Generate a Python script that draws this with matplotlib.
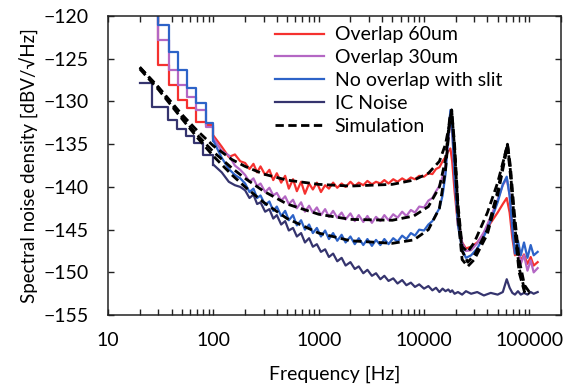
import numpy as np
import matplotlib
matplotlib.use("Agg")
import matplotlib.pyplot as plt
from matplotlib.ticker import FixedLocator, LogLocator, NullFormatter

plt.rcParams['font.family'] = ['Lato', 'DejaVu Sans']

# ---- data (frequency in Hz, level in dBV/sqrt(Hz)) ----
n_step = 8  # first points are stair-like (coarse FFT bins)

f_low = [28, 30, 38, 46, 56, 69, 85, 100]
f_mid = [120, 140, 160, 180,
         200, 220, 240, 260, 280, 310, 340, 370, 400, 440, 480, 520, 570, 620,
         680, 740, 810, 880, 960, 1050, 1150, 1250, 1370, 1500, 1650, 1800,
         2000, 2200, 2400, 2650, 2900, 3200, 3500, 3850, 4200, 4600, 5100,
         5600, 6200, 6800, 7500, 8200, 9000, 10000, 11000, 12000, 13000,
         14000, 15000, 16000]
f_high = [17000, 17800, 18500, 19500, 21000, 23000, 25000, 28000, 32000,
          37000, 43000, 50000, 56000, 61000, 65000, 69000, 73000, 78000,
          83000, 89000, 96000, 103000, 110000, 120000]

red_low = [-117, -125.7, -128.1, -129.8, -130.8, -132.4, -132.8, -134.0]
red_mid = [-135.3, -136.5, -136.2, -137.0,
           -137.2, -137.9, -137.3, -138.3, -137.6, -138.6, -138.0, -139.2,
           -138.4, -139.5, -138.7, -140.2, -139.1, -140.5, -139.4, -140.8,
           -139.6, -140.3, -139.5, -140.6, -139.8, -140.2, -139.5, -140.1,
           -139.6, -140.0, -139.4, -139.9, -139.5, -139.8, -139.3, -139.7,
           -139.4, -139.6, -139.2, -139.6, -139.1, -139.4, -139.0, -139.3,
           -138.9, -139.1, -138.7, -138.8, -138.4, -138.5, -137.9, -137.7,
           -137.0, -136.5]
red_high = [-135.8, -135.5, -137.0, -140.5, -144.5, -146.5, -147.2, -147.0,
            -146.5, -145.5, -144.2, -143.0, -142.0, -141.3, -143.0, -146.0,
            -148.0, -147.5, -148.6, -147.9, -149.0, -148.2, -149.2, -148.8]

purple_low = [-117, -122.8, -126.3, -128.1, -129.5, -131.0, -133.0, -134.3]
purple_mid = [-135.8, -136.3, -137.5, -138.0,
              -138.6, -139.4, -139.0, -139.9, -139.6, -140.6, -140.1, -141.0,
              -140.7, -141.6, -141.1, -142.0, -141.5, -142.5, -141.8, -142.9,
              -142.2, -143.0, -142.4, -143.3, -142.6, -143.5, -142.8, -143.6,
              -143.0, -143.8, -143.1, -144.0, -143.3, -144.1, -143.4, -144.2,
              -143.5, -144.0, -143.3, -143.9, -143.2, -143.6, -142.9, -143.4,
              -142.7, -143.0, -142.3, -142.4, -141.6, -141.3, -140.5, -139.9,
              -138.8, -137.5]
purple_high = [-134.5, -131.8, -133.5, -138.5, -143.5, -146.5, -147.5, -147.4,
               -146.6, -145.3, -143.5, -141.5, -139.8, -139.0, -141.0, -144.5,
               -147.5, -147.0, -149.0, -148.0, -149.8, -148.6, -150.0, -149.5]

blue_low = [-117, -121.1, -124.2, -126.3, -128.4, -130.2, -132.5, -134.6]
blue_mid = [-136.6, -137.9, -138.6, -139.0,
            -139.6, -140.6, -140.2, -141.3, -141.0, -142.1, -141.7, -142.8,
            -142.3, -143.4, -142.8, -143.9, -143.3, -144.5, -143.9, -145.0,
            -144.4, -145.4, -144.8, -145.8, -145.1, -146.1, -145.4, -146.3,
            -145.6, -146.5, -145.8, -146.7, -146.0, -146.8, -146.1, -146.9,
            -146.2, -146.8, -146.1, -146.7, -146.0, -146.4, -145.7, -146.1,
            -145.4, -145.7, -145.0, -145.1, -144.4, -144.0, -143.2, -142.5,
            -141.0, -138.5]
blue_high = [-134.0, -131.0, -133.0, -139.0, -144.5, -147.3, -148.3, -148.0,
             -147.2, -145.8, -144.0, -141.8, -139.7, -138.8, -141.0, -145.0,
             -147.8, -146.3, -148.0, -146.5, -148.3, -146.8, -148.0, -147.6]

ic_f_low = [20, 26, 37, 45, 55, 65, 80, 100]
ic_low = [-127.8, -130.6, -132.2, -133.2, -134.0, -134.9, -136.3, -137.4]
ic_mid = [-138.3, -139.4, -139.8, -140.0,
          -140.4, -141.3, -140.9, -142.0, -141.8, -142.9, -142.6, -143.7,
          -143.3, -144.4, -144.0, -145.1, -144.8, -145.8, -145.4, -146.5,
          -146.0, -147.0, -146.7, -147.6, -147.3, -148.2, -147.8, -148.7,
          -148.3, -149.2, -148.8, -149.6, -149.3, -150.1, -149.7, -150.4,
          -150.1, -150.8, -150.4, -151.0, -150.7, -151.3, -150.9, -151.5,
          -151.2, -151.7, -151.4, -151.9, -151.6, -152.1, -151.8, -152.3,
          -151.9, -152.2]
ic_high = [-152.0, -152.3, -152.1, -152.5, -152.3, -152.6, -152.2, -152.5,
           -152.3, -152.7, -152.4, -152.6, -152.3, -150.8, -151.8, -152.4,
           -152.6, -152.2, -152.6, -152.4, -152.6, -152.3, -152.5, -152.3]

sim_f = [20, 30, 50, 70, 100, 150, 200, 300, 500, 1000, 2000, 5000, 8000,
         11000, 14000, 16000, 17500, 18300, 19500, 21000, 23000, 26000, 30000,
         40000, 50000, 58000, 62000, 66000, 72000, 80000, 90000, 100000]
sim_red = [-126.0, -128.3, -131.5, -133.4, -135.2, -136.8, -137.6, -138.5,
           -139.2, -139.7, -139.9, -139.7, -139.2, -138.4, -137.0, -135.0,
           -132.5, -131.0, -135.0, -142.0, -147.0, -147.6, -146.5, -143.0,
           -139.5, -136.5, -135.0, -137.5, -143.0, -148.5, -151.5, -152.3]
sim_purple = [-126.0, -128.4, -131.8, -133.9, -135.9, -137.8, -139.0, -140.5,
              -142.0, -143.2, -143.8, -143.9, -143.4, -142.3, -140.0, -136.8,
              -132.0, -131.0, -135.5, -142.5, -147.5, -148.8, -148.0, -145.0,
              -140.5, -136.5, -135.0, -138.0, -144.0, -149.5, -152.0, -152.5]
sim_blue = [-126.2, -128.6, -132.0, -134.2, -136.4, -138.6, -140.0, -141.8,
            -143.7, -145.4, -146.3, -146.6, -146.2, -145.0, -142.5, -138.0,
            -132.5, -131.2, -136.0, -143.5, -148.5, -149.3, -148.5, -145.5,
            -141.0, -137.0, -135.2, -138.5, -144.5, -150.0, -152.3, -152.6]

labels = ['Overlap 60um', 'Overlap 30um', 'No overlap with slit', 'IC Noise',
          'Simulation']
colors = ['#f5312f', '#b467c4', '#2d63c8', '#35346e', 'black']

fig = plt.figure(figsize=(5.69, 3.9), dpi=100)
ax = fig.add_axes([0.19, 0.192, 0.796, 0.767])


def draw(f, v, label, color):
    f = np.array(f, dtype=float)
    v = np.array(v, dtype=float)
    ax.step(f[:n_step], v[:n_step], where='post', color=color, lw=1.6)
    ax.plot(f[n_step - 1:], v[n_step - 1:], color=color, lw=1.6, label=label)


draw(f_low + f_mid + f_high, red_low + red_mid + red_high, labels[0], colors[0])
draw(f_low + f_mid + f_high, purple_low + purple_mid + purple_high, labels[1], colors[1])
draw(f_low + f_mid + f_high, blue_low + blue_mid + blue_high, labels[2], colors[2])
draw(ic_f_low + f_mid + f_high, ic_low + ic_mid + ic_high, labels[3], colors[3])

for i, s in enumerate([sim_red, sim_purple, sim_blue]):
    ax.plot(sim_f, s, color='black', lw=2.0, ls=(0, (3.0, 1.6)),
            label=labels[4] if i == 0 else None)

ax.set_xscale('log')
ax.set_xlim(10, 200000)
ax.set_ylim(-155, -120)
ax.xaxis.set_major_locator(FixedLocator([10, 100, 1000, 10000, 100000]))
ax.set_xticklabels(['10', '100', '1000', '10000', '100000'])
ax.xaxis.set_minor_locator(LogLocator(base=10, subs=np.arange(2, 10)))
ax.xaxis.set_minor_formatter(NullFormatter())
ax.set_yticks(np.arange(-155, -119, 5))

ax.tick_params(which='both', direction='in', top=True, right=True,
               labelsize=14, width=1.0, color='#222222')
ax.tick_params(which='major', length=4)
ax.tick_params(which='minor', length=4)
ax.tick_params(axis='x', which='major', pad=12)
ax.tick_params(axis='y', which='major', pad=14)
for sp in ax.spines.values():
    sp.set_linewidth(1.1)
    sp.set_color('#222222')

ax.set_xlabel('Frequency [Hz]', fontsize=14, labelpad=12)
ax.set_ylabel('Spectral noise density [dBV/\u221aHz]', fontsize=13.5, labelpad=3)

ax.legend(loc='upper left', bbox_to_anchor=(0.369, 0.965), frameon=False,
          fontsize=14, handlelength=2.5, handletextpad=0.55,
          labelspacing=0.3, borderpad=0, borderaxespad=0)

fig.savefig('out.png', dpi=100)
